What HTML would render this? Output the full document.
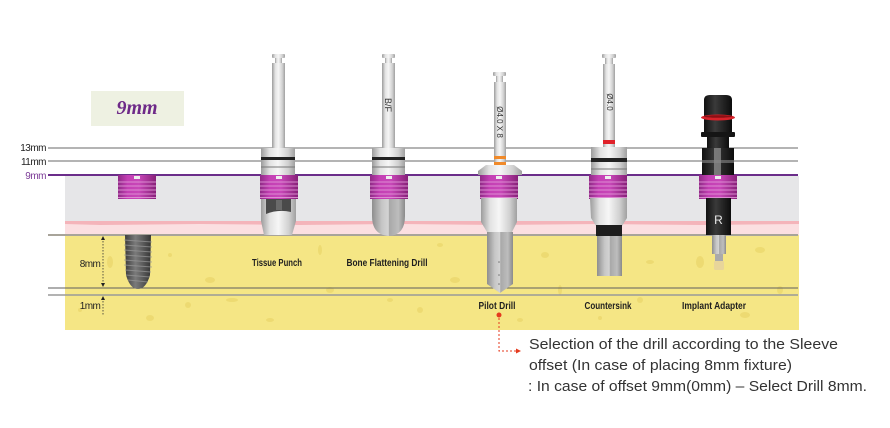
<!DOCTYPE html>
<html><head><meta charset="utf-8"><style>
html,body{margin:0;padding:0;background:#fff;}
svg{display:block;}
</style></head><body>
<svg width="890" height="428" viewBox="0 0 890 428" xmlns="http://www.w3.org/2000/svg">
<defs>
<linearGradient id="metal" x1="0" y1="0" x2="1" y2="0">
<stop offset="0" stop-color="#9c9c9c"/><stop offset="0.25" stop-color="#e2e2e2"/><stop offset="0.5" stop-color="#f6f6f6"/><stop offset="0.8" stop-color="#d0d0d0"/><stop offset="1" stop-color="#a0a0a0"/>
</linearGradient>
<linearGradient id="metal2" x1="0" y1="0" x2="1" y2="0">
<stop offset="0" stop-color="#8e8e8e"/><stop offset="0.3" stop-color="#c6c6c6"/><stop offset="0.5" stop-color="#d4d4d4"/><stop offset="0.52" stop-color="#a8a8a8"/><stop offset="0.8" stop-color="#bdbdbd"/><stop offset="1" stop-color="#8a8a8a"/>
</linearGradient>
<linearGradient id="pink" x1="0" y1="0" x2="1" y2="0">
<stop offset="0" stop-color="#8f2a86"/><stop offset="0.25" stop-color="#c43fb4"/><stop offset="0.55" stop-color="#c847b8"/><stop offset="1" stop-color="#872178"/>
</linearGradient>
<linearGradient id="dark" x1="0" y1="0" x2="1" y2="0">
<stop offset="0" stop-color="#111"/><stop offset="0.4" stop-color="#3a3a3a"/><stop offset="0.6" stop-color="#2a2a2a"/><stop offset="1" stop-color="#0c0c0c"/>
</linearGradient>
<linearGradient id="impl" x1="0" y1="0" x2="1" y2="0">
<stop offset="0" stop-color="#3e3e3e"/><stop offset="0.4" stop-color="#7a7a7a"/><stop offset="0.7" stop-color="#5a5a5a"/><stop offset="1" stop-color="#353535"/>
</linearGradient>
<g id="sleeve">
<rect x="-19" y="0" width="38" height="24" fill="url(#pink)"/>
<g stroke="#e29ad8" stroke-width="1" opacity="0.85">
<line x1="-19" y1="7" x2="19" y2="7"/><line x1="-19" y1="11" x2="19" y2="11"/><line x1="-19" y1="15" x2="19" y2="15"/><line x1="-19" y1="19" x2="19" y2="19"/><line x1="-19" y1="22.5" x2="19" y2="22.5"/>
</g>
<rect x="-3" y="1" width="6" height="3" fill="#eee"/>
</g>
</defs>

<!-- 9mm label box -->
<rect x="91" y="91" width="93" height="35" fill="#eef1e2"/>
<text x="137" y="114" text-anchor="middle" font-family="Liberation Serif, serif" font-style="italic" font-weight="bold" font-size="20" fill="#6e2a88">9mm</text>

<!-- background zones -->
<rect x="65" y="176" width="734" height="46" fill="#e6e6e8"/>
<rect x="65" y="221" width="734" height="14" fill="#fbdfe1"/>
<path d="M65,221 L799,221 L799,224 L700,225 L600,224 L500,225 L400,224 L300,225 L200,224 L100,225 L65,224 Z" fill="#f4b4ba"/>
<rect x="65" y="235" width="734" height="95" fill="#f5e685"/>
<g fill="#ead66a" opacity="0.7">
<ellipse cx="110" cy="262" rx="3" ry="6"/><ellipse cx="170" cy="255" rx="2" ry="2"/><ellipse cx="210" cy="280" rx="5" ry="3"/><ellipse cx="188" cy="305" rx="3" ry="3"/>
<ellipse cx="232" cy="300" rx="6" ry="2"/><ellipse cx="320" cy="250" rx="2" ry="5"/><ellipse cx="330" cy="290" rx="4" ry="3"/><ellipse cx="440" cy="245" rx="3" ry="2"/>
<ellipse cx="455" cy="280" rx="5" ry="3"/><ellipse cx="420" cy="310" rx="3" ry="3"/><ellipse cx="545" cy="255" rx="4" ry="3"/><ellipse cx="560" cy="290" rx="2" ry="5"/>
<ellipse cx="650" cy="262" rx="4" ry="2"/><ellipse cx="640" cy="300" rx="3" ry="3"/><ellipse cx="700" cy="262" rx="4" ry="6"/><ellipse cx="760" cy="250" rx="5" ry="3"/>
<ellipse cx="780" cy="290" rx="3" ry="4"/><ellipse cx="745" cy="315" rx="5" ry="3"/><ellipse cx="270" cy="320" rx="4" ry="2"/><ellipse cx="520" cy="320" rx="3" ry="2"/>
<ellipse cx="80" cy="310" rx="2" ry="2"/><ellipse cx="150" cy="318" rx="4" ry="3"/><ellipse cx="390" cy="300" rx="3" ry="2"/><ellipse cx="600" cy="318" rx="2" ry="2"/>
</g>

<!-- horizontal reference lines -->
<g font-family="Liberation Sans, sans-serif" font-size="10" text-anchor="end" fill="#222">
<text x="46" y="151" letter-spacing="-0.5">13mm</text>
<text x="46" y="165" letter-spacing="-0.5">11mm</text>
<text x="46" y="179" fill="#7b3a96" letter-spacing="-0.5">9mm</text>
</g>
<line x1="48" y1="148" x2="798" y2="148" stroke="#6a6a6a" stroke-width="1"/>
<line x1="48" y1="161" x2="798" y2="161" stroke="#6a6a6a" stroke-width="1"/>
<line x1="48" y1="175" x2="798" y2="175" stroke="#6b2d8a" stroke-width="2"/>
<line x1="48" y1="235" x2="798" y2="235" stroke="#a8a49a" stroke-width="2"/>
<line x1="48" y1="288" x2="798" y2="288" stroke="#5e5e5e" stroke-width="1"/>
<line x1="48" y1="295" x2="798" y2="295" stroke="#9a9a9a" stroke-width="1.5"/>

<!-- mm dimension -->
<g stroke="#333" stroke-width="0.8" stroke-dasharray="1.5,1.5">
<line x1="103" y1="238" x2="103" y2="285"/>
<line x1="103" y1="298" x2="103" y2="316"/>
</g>
<g fill="#222">
<path d="M101,240 L105,240 L103,236 Z"/><path d="M101,283 L105,283 L103,287 Z"/><path d="M101,300 L105,300 L103,296 Z"/>
</g>
<g font-family="Liberation Sans, sans-serif" font-size="10" text-anchor="middle" fill="#222">
<text x="90" y="267" letter-spacing="-0.6">8mm</text>
<text x="90" y="309" letter-spacing="-0.6">1mm</text>
</g>

<!-- left implant -->
<use href="#sleeve" x="137" y="175"/>
<path d="M125,235 L151,235 L150,275 Q146,289 138,289 Q130,289 126,275 Z" fill="url(#impl)"/>
<g stroke="#9a9a9a" stroke-width="1" opacity="0.7">
<line x1="124" y1="240" x2="152" y2="242"/><line x1="124" y1="245" x2="152" y2="247"/><line x1="124" y1="250" x2="152" y2="252"/><line x1="124" y1="255" x2="152" y2="257"/><line x1="124" y1="260" x2="152" y2="262"/><line x1="124" y1="265" x2="152" y2="267"/><line x1="125" y1="270" x2="151" y2="272"/><line x1="126" y1="275" x2="150" y2="277"/><line x1="128" y1="280" x2="148" y2="282"/>
</g>

<!-- Tissue Punch -->
<rect x="272" y="54" width="13" height="4" rx="1" fill="url(#metal)"/>
<rect x="275" y="58" width="7" height="5" fill="url(#metal)"/>
<rect x="272" y="63" width="13" height="85" fill="url(#metal)"/>
<rect x="261" y="148" width="34" height="27" fill="url(#metal)"/>
<rect x="261" y="157" width="34" height="3" fill="#222"/>
<line x1="261" y1="167" x2="295" y2="167" stroke="#777" stroke-width="1"/>
<use href="#sleeve" x="279" y="175"/>
<path d="M261,199 L296,199 L296,221 L292,235 L264,235 L261,221 Z" fill="url(#metal)"/>
<path d="M266,199 L291,199 L291,212 Q278,209 266,214 Z" fill="#4a4a4a"/>
<rect x="276" y="200" width="6" height="10" fill="#6a6a6a"/>

<!-- Bone Flattening Drill -->
<rect x="382" y="54" width="13" height="4" rx="1" fill="url(#metal)"/>
<rect x="385" y="58" width="7" height="5" fill="url(#metal)"/>
<rect x="382" y="63" width="13" height="85" fill="url(#metal)"/>
<text transform="translate(385,105) rotate(90)" font-family="Liberation Sans, sans-serif" font-size="9" fill="#333" text-anchor="middle">B/F</text>
<rect x="372" y="148" width="33" height="27" fill="url(#metal)"/>
<rect x="372" y="157" width="33" height="3" fill="#222"/>
<line x1="372" y1="167" x2="405" y2="167" stroke="#777" stroke-width="1"/>
<use href="#sleeve" x="389" y="175"/>
<path d="M372,199 L405,199 L405,216 Q405,235 389,236 Q372,235 372,216 Z" fill="url(#metal2)"/>

<!-- Pilot Drill -->
<rect x="493" y="72" width="13" height="4" rx="1" fill="url(#metal)"/>
<rect x="496" y="76" width="7" height="6" fill="url(#metal)"/>
<rect x="494" y="82" width="12" height="84" fill="url(#metal)"/>
<text transform="translate(497,122) rotate(90)" font-family="Liberation Sans, sans-serif" font-size="8" fill="#333" text-anchor="middle">Ø4.0 X 8</text>
<rect x="494" y="156" width="12" height="3" fill="#f08a2a"/>
<rect x="494" y="162" width="12" height="3" fill="#f08a2a"/>
<path d="M486,165 L514,165 L522,171 L522,175 L478,175 L478,171 Z" fill="url(#metal)"/>
<use href="#sleeve" x="499" y="175"/>
<path d="M481,198 L517,198 L517,222 L512,232 L487,232 L481,222 Z" fill="url(#metal)"/>
<path d="M487,232 L513,232 L513,284 L500,293 L487,284 Z" fill="url(#metal2)"/>
<g fill="#777"><circle cx="499" cy="262" r="0.8"/><circle cx="499" cy="275" r="0.8"/><circle cx="499" cy="284" r="0.8"/></g>

<!-- Countersink -->
<rect x="602" y="54" width="14" height="4" rx="1" fill="url(#metal)"/>
<rect x="605" y="58" width="8" height="6" fill="url(#metal)"/>
<rect x="603" y="64" width="12" height="83" fill="url(#metal)"/>
<text transform="translate(607,102) rotate(90)" font-family="Liberation Sans, sans-serif" font-size="8" fill="#333" text-anchor="middle">Ø4.0</text>
<rect x="603" y="140" width="12" height="4" fill="#e0222a"/>
<rect x="591" y="147" width="36" height="28" fill="url(#metal)"/>
<rect x="591" y="158" width="36" height="4" fill="#222"/>
<line x1="591" y1="169" x2="627" y2="169" stroke="#777" stroke-width="1"/>
<use href="#sleeve" x="608" y="175"/>
<path d="M590,198 L627,198 L627,218 L622,226 L596,226 L591,218 Z" fill="url(#metal)"/>
<rect x="596" y="225" width="26" height="11" fill="#1e1e1e"/>
<path d="M597,236 L622,236 L622,276 L597,276 Z" fill="url(#metal2)"/>

<!-- Implant Adapter -->
<path d="M704,133 L704,100 Q704,95 710,95 L726,95 Q732,95 732,100 L732,133 Z" fill="url(#dark)"/>
<ellipse cx="718" cy="117.5" rx="17" ry="3" fill="#d8222a"/>
<ellipse cx="718" cy="116.5" rx="14" ry="1.3" fill="#8a1015"/>
<rect x="701" y="132" width="34" height="5" rx="1" fill="#151515"/>
<rect x="707" y="137" width="22" height="12" fill="url(#dark)"/>
<rect x="702" y="148" width="32" height="27" fill="url(#dark)"/>
<rect x="714" y="148" width="7" height="27" fill="#8a8a8a" opacity="0.8"/>
<rect x="702" y="160" width="32" height="3" fill="#888" opacity="0.6"/>
<use href="#sleeve" x="718" y="175"/>
<rect x="706" y="198" width="25" height="37" fill="url(#dark)"/>
<text x="718.5" y="224" text-anchor="middle" font-family="Liberation Sans, sans-serif" font-size="12" fill="#e8e8e8">R</text>
<rect x="712" y="235" width="14" height="19" fill="url(#metal2)"/>
<rect x="715" y="254" width="8" height="7" fill="#aaa"/>
<rect x="714" y="261" width="10" height="9" rx="1.5" fill="#e8d59a"/>

<!-- tool labels -->
<g font-family="Liberation Sans Narrow, Liberation Sans, sans-serif" font-weight="bold" font-size="10.5" fill="#1f1f1f" text-anchor="middle">
<text x="277" y="266" textLength="50" lengthAdjust="spacingAndGlyphs">Tissue Punch</text>
<text x="387" y="266" textLength="81" lengthAdjust="spacingAndGlyphs">Bone Flattening Drill</text>
<text x="497" y="309" textLength="37" lengthAdjust="spacingAndGlyphs">Pilot Drill</text>
<text x="608" y="309" textLength="47" lengthAdjust="spacingAndGlyphs">Countersink</text>
<text x="714" y="309" textLength="64" lengthAdjust="spacingAndGlyphs">Implant Adapter</text>
</g>

<!-- red connector -->
<circle cx="499" cy="315" r="2.5" fill="#e53a1e"/>
<path d="M499,318 L499,351 L516,351" fill="none" stroke="#e53a1e" stroke-width="1" stroke-dasharray="2,2"/>
<path d="M516,348.5 L521,351 L516,353.5 Z" fill="#e53a1e"/>

<!-- description -->
<g font-family="Liberation Sans, sans-serif" font-size="14.5" fill="#333">
<text x="529" y="349" textLength="309" lengthAdjust="spacingAndGlyphs">Selection of the drill according to the Sleeve</text>
<text x="529" y="370" textLength="263" lengthAdjust="spacingAndGlyphs">offset (In case of placing 8mm fixture)</text>
<text x="528" y="391" textLength="339" lengthAdjust="spacingAndGlyphs">: In case of offset 9mm(0mm) – Select Drill 8mm.</text>
</g>
</svg>
</body></html>
